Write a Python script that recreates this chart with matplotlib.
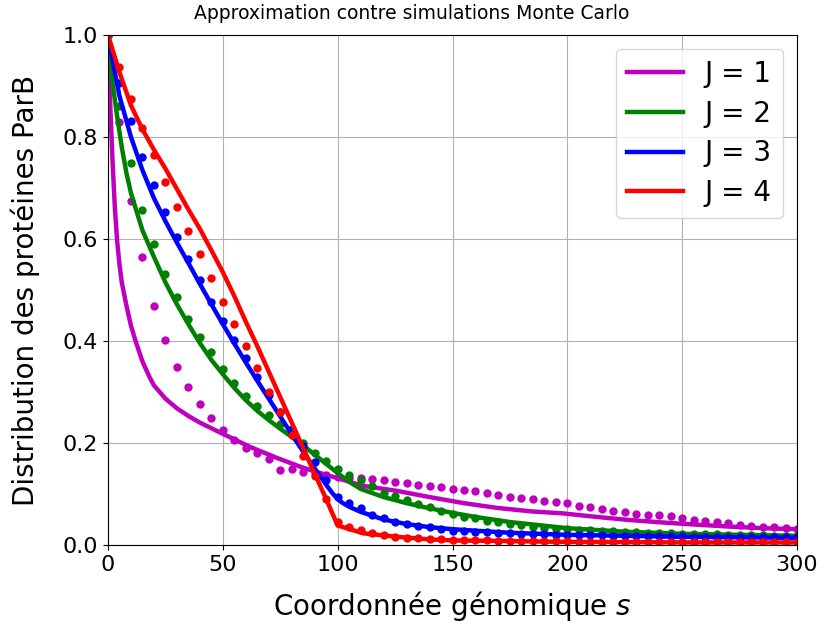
import numpy as np
import matplotlib
matplotlib.use("Agg")
import matplotlib.pyplot as plt

# ---- data ----
labels = ["J = 1", "J = 2", "J = 3", "J = 4"]
colors = ["m", "g", "b", "r"]

# approximation curves (solid lines)
s_j1 = [0, 1, 2, 3, 4, 5, 6, 8, 10, 12, 15, 18, 20, 25, 30, 35, 40, 50, 62, 74, 84, 91, 100,
        111, 126, 140, 155, 169, 184, 198, 213, 227, 242, 256, 271, 285, 300]
v_j1 = [1.0, 0.86, 0.75, 0.66, 0.595, 0.55, 0.515, 0.47, 0.43, 0.40, 0.36, 0.33, 0.313, 0.287,
        0.268, 0.253, 0.240, 0.218, 0.192, 0.170, 0.153, 0.143, 0.131,
        0.116, 0.106, 0.094, 0.082, 0.073, 0.066, 0.062, 0.055, 0.049, 0.044, 0.040, 0.036, 0.033, 0.031]

s_j2 = [0, 2, 4, 6, 8, 10, 15, 20, 25, 30, 35, 40, 45, 50, 55, 60, 65, 70, 75, 80, 85, 90, 95, 100,
        105, 110, 120, 130, 140, 150, 160, 175, 200, 225, 250, 275, 300]
v_j2 = [1.0, 0.905, 0.84, 0.78, 0.73, 0.69, 0.617, 0.565, 0.515, 0.472, 0.433, 0.396, 0.363, 0.335,
        0.308, 0.284, 0.263, 0.245, 0.228, 0.212, 0.195, 0.177, 0.159, 0.141,
        0.124, 0.110, 0.094, 0.082, 0.072, 0.063, 0.055, 0.045, 0.033, 0.026, 0.022, 0.020, 0.018]

s_j3 = [0, 2, 5, 10, 15, 20, 25, 30, 35, 40, 45, 50, 55, 60, 65, 70, 75, 80, 85, 90, 95, 98, 100,
        102, 105, 110, 120, 130, 140, 150, 160, 175, 200, 225, 250, 275, 300]
v_j3 = [1.0, 0.95, 0.88, 0.80, 0.735, 0.68, 0.635, 0.593, 0.553, 0.512, 0.472, 0.433, 0.395, 0.358,
        0.322, 0.287, 0.252, 0.217, 0.183, 0.150, 0.118, 0.100, 0.090,
        0.083, 0.075, 0.065, 0.050, 0.041, 0.035, 0.031, 0.028, 0.024, 0.020, 0.018, 0.016, 0.015, 0.014]

s_j4 = [0, 5, 10, 15, 20, 25, 30, 35, 40, 45, 50, 55, 60, 65, 70, 75, 80, 85, 90, 95, 100,
        104, 111, 126, 140, 150, 169, 200, 213, 250, 300]
v_j4 = [1.0, 0.927, 0.862, 0.815, 0.775, 0.738, 0.698, 0.658, 0.620, 0.578, 0.535, 0.488, 0.438,
        0.390, 0.340, 0.290, 0.240, 0.190, 0.140, 0.090, 0.038,
        0.033, 0.023, 0.016, 0.011, 0.009, 0.008, 0.006, 0.006, 0.005, 0.005]

# Monte Carlo simulations (dots), every 5 units
s_mc = list(range(0, 305, 5))
mc_j1 = [1.0, 0.83, 0.675, 0.565, 0.468, 0.401, 0.349, 0.31, 0.277, 0.249, 0.225, 0.206, 0.19,
         0.18, 0.169, 0.147, 0.15, 0.143, 0.141, 0.137, 0.134, 0.132, 0.131, 0.130, 0.127, 0.124,
         0.122, 0.118, 0.116, 0.113, 0.110, 0.108, 0.105, 0.101, 0.099, 0.095, 0.092, 0.090, 0.087,
         0.084, 0.082, 0.077, 0.074, 0.071, 0.067, 0.065, 0.061, 0.059, 0.058, 0.056, 0.053, 0.050,
         0.048, 0.045, 0.043, 0.040, 0.038, 0.036, 0.035, 0.033, 0.032]
mc_j2 = [1.0, 0.861, 0.75, 0.657, 0.59, 0.532, 0.487, 0.443, 0.408, 0.378, 0.345, 0.317, 0.292,
         0.273, 0.254, 0.238, 0.22, 0.2, 0.18, 0.165, 0.149, 0.137, 0.127, 0.116, 0.102, 0.096,
         0.088, 0.080, 0.074, 0.067, 0.061, 0.055, 0.053, 0.048, 0.045, 0.042, 0.039, 0.036, 0.034,
         0.032, 0.031, 0.030, 0.029, 0.028, 0.027, 0.026, 0.025, 0.024, 0.024, 0.023, 0.022, 0.022,
         0.021, 0.021, 0.020, 0.020, 0.019, 0.019, 0.018, 0.018, 0.018]
mc_j3 = [1.0, 0.905, 0.832, 0.761, 0.705, 0.652, 0.604, 0.56, 0.52, 0.477, 0.439, 0.402, 0.367,
         0.329, 0.294, 0.26, 0.227, 0.195, 0.163, 0.127, 0.094, 0.082, 0.073, 0.059, 0.053, 0.045,
         0.041, 0.037, 0.035, 0.031, 0.028, 0.027, 0.026, 0.025, 0.024, 0.023, 0.022, 0.021, 0.021,
         0.020, 0.020, 0.019, 0.019, 0.019, 0.018, 0.018, 0.018, 0.017, 0.017, 0.017, 0.017, 0.016,
         0.016, 0.016, 0.016, 0.015, 0.015, 0.015, 0.015, 0.015, 0.015]
mc_j4 = [1.0, 0.937, 0.875, 0.818, 0.764, 0.712, 0.663, 0.615, 0.571, 0.524, 0.477, 0.433, 0.39,
         0.347, 0.300, 0.26, 0.215, 0.175, 0.135, 0.09, 0.045, 0.036, 0.030, 0.024, 0.020, 0.016,
         0.014, 0.013, 0.012, 0.011, 0.010, 0.010, 0.009, 0.009, 0.008, 0.008, 0.008, 0.007, 0.007,
         0.007, 0.007, 0.006, 0.006, 0.006, 0.006, 0.006, 0.006, 0.006, 0.005, 0.005, 0.005, 0.005,
         0.005, 0.005, 0.005, 0.005, 0.005, 0.005, 0.005, 0.005, 0.005]

x_ticks = [0, 50, 100, 150, 200, 250, 300]
y_ticks = [0.0, 0.2, 0.4, 0.6, 0.8, 1.0]

# ---- plot ----
fig = plt.figure(figsize=(8.24, 6.28), dpi=100)
ax = fig.add_axes([108 / 824, 1 - 545 / 628, (797 - 108) / 824, (545 - 35) / 628])

lines_s = [s_j1, s_j2, s_j3, s_j4]
lines_v = [v_j1, v_j2, v_j3, v_j4]
mcs = [mc_j1, mc_j2, mc_j3, mc_j4]
for ls, lv, mc, c, lab in zip(lines_s, lines_v, mcs, colors, labels):
    ax.plot(ls, lv, color=c, lw=3.2, label=lab)
    ax.plot(s_mc, mc, "o", color=c, ms=6, mec="none")

ax.set_xlim(0, 300)
ax.set_ylim(0, 1)
ax.set_xticks(x_ticks)
ax.set_yticks(y_ticks)
ax.tick_params(labelsize=16)
ax.grid(True)
fig.suptitle("Approximation contre simulations Monte Carlo", fontsize=13.5, y=0.993)
ax.set_xlabel("Coordonnée génomique $s$", fontsize=20, labelpad=10)
ax.set_ylabel("Distribution des protéines ParB", fontsize=20)
ax.yaxis.set_label_coords(-0.098, 0.5)
ax.legend(loc="upper right", fontsize=20, labelspacing=0.42)

fig.savefig("out.png", dpi=100)
